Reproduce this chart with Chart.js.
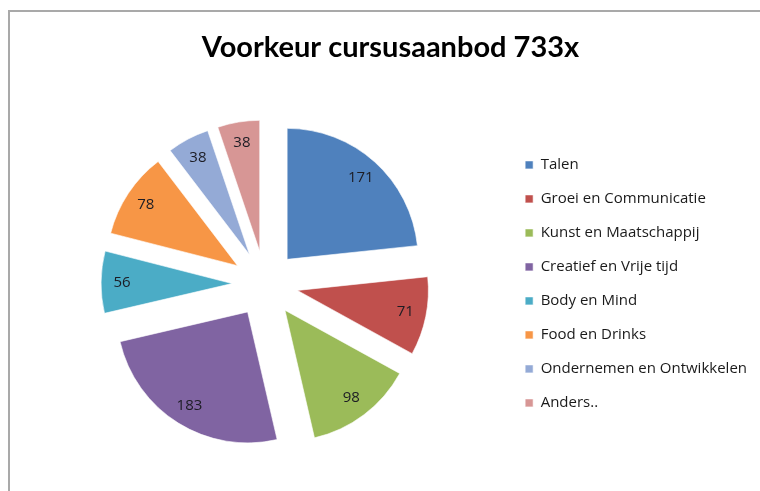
<!DOCTYPE html>
<html>
<head>
<meta charset="utf-8">
<script src="https://cdn.jsdelivr.net/npm/chart.js@4.4.1/dist/chart.umd.min.js"></script>
<style>
  html, body { margin: 0; padding: 0; background: #fff; overflow: hidden; }
  #frame { position: absolute; left: 8px; top: 10px; right: -10px; bottom: -10px;
           border-top: 2px solid #a9a9a9; border-left: 2px solid #a9a9a9; }
  #wrap { position: absolute; left: 0; top: 0; width: 760px; height: 491px; }
</style>
</head>
<body>
<div id="frame"></div>
<div id="wrap"><canvas id="pie"></canvas></div>
<script>
const categories = ["Talen", "Groei en Communicatie", "Kunst en Maatschappij", "Creatief en Vrije tijd",
  "Body en Mind", "Food en Drinks", "Ondernemen en Ontwikkelen", "Anders.."];
const values = [171, 71, 98, 183, 56, 78, 38, 38];
const colors = ['#4F81BD', '#C0504D', '#9BBB59', '#8064A2', '#4BACC6', '#F79646', '#94AAD6', '#D79695'];

const EXPLODE = 33;   // px each slice is pulled out from the centre

// move every slice outward along its bisector, keeping its radius
const baseArcDraw = Chart.ArcElement.prototype.draw;
Chart.ArcElement.prototype.draw = function (ctx) {
  const mid = (this.startAngle + this.endAngle) / 2;
  ctx.save();
  ctx.translate(Math.cos(mid) * EXPLODE, Math.sin(mid) * EXPLODE);
  baseArcDraw.call(this, ctx);
  ctx.restore();
};

const valueLabels = {
  id: 'valueLabels',
  afterDatasetsDraw(chart) {
    const ctx = chart.ctx;
    ctx.save();
    ctx.font = '15px "Open Sans"';
    ctx.fillStyle = '#1c1c24';
    ctx.textAlign = 'center';
    ctx.textBaseline = 'middle';
    chart.getDatasetMeta(0).data.forEach((arc, i) => {
      const p = arc.getProps(['x', 'y', 'startAngle', 'endAngle', 'outerRadius'], true);
      const mid = (p.startAngle + p.endAngle) / 2;
      const r = EXPLODE + p.outerRadius * 0.84;
      ctx.fillText(values[i], p.x + Math.cos(mid) * r, p.y + Math.sin(mid) * r);
    });
    ctx.restore();
  }
};

new Chart(document.getElementById('pie'), {
  type: 'pie',
  data: {
    labels: categories,
    datasets: [{
      data: values,
      backgroundColor: colors,
      borderColor: 'rgba(255,255,255,0.6)',
      borderWidth: 1,
      radius: 131
    }]
  },
  options: {
    responsive: true,
    maintainAspectRatio: false,
    animation: false,
    layout: { padding: { left: 24, right: 3, top: 0, bottom: 0 } },
    plugins: {
      title: {
        display: true,
        text: 'Voorkeur cursusaanbod 733x',
        color: '#000',
        font: { family: 'Lato', size: 29, weight: 'bold' },
        padding: { top: 30, bottom: 12 }
      },
      legend: {
        position: 'right',
        fullSize: false,
        labels: {
          boxWidth: 8,
          boxHeight: 8,
          padding: 19,
          color: '#1a1a1a',
          font: { family: 'Open Sans', size: 15 }
        }
      },
      tooltip: { enabled: false }
    }
  },
  plugins: [valueLabels]
});
</script>
</body>
</html>
